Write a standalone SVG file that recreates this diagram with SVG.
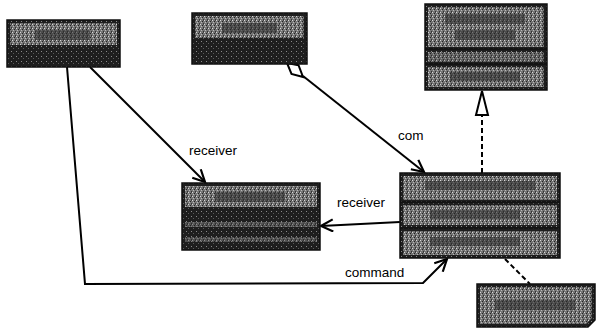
<svg xmlns="http://www.w3.org/2000/svg" width="596" height="329" viewBox="0 0 596 329">
<style>
.box{stroke:#111;stroke-width:1.5}
.dk{fill:url(#pdk)}
.lt{fill:url(#plt)}
.sep{stroke:#111;stroke-width:1.5}
.ln{fill:none;stroke:#000;stroke-width:2}
.dash{fill:none;stroke:#000;stroke-width:2;stroke-dasharray:5 3}
.lbl{font-family:"Liberation Sans",Arial,sans-serif;font-size:13.5px;fill:#000}
.txt{fill:#2a2a2a;opacity:0.55}
</style>
<defs>
<pattern id="pdk" width="5" height="5" patternUnits="userSpaceOnUse">
<rect width="5" height="5" fill="#1e1e1e"/>
<rect x="1" y="1" width="1" height="1" fill="#8a8a8a"/>
<rect x="3" y="3" width="1" height="1" fill="#5a5a5a"/>
</pattern>
<pattern id="plt" width="4" height="4" patternUnits="userSpaceOnUse">
<rect width="4" height="4" fill="#767676"/>
<rect x="0" y="0" width="1" height="1" fill="#d8d8d8"/>
<rect x="2" y="1" width="1" height="1" fill="#222"/>
<rect x="1" y="2" width="1" height="1" fill="#b8b8b8"/>
<rect x="3" y="3" width="1" height="1" fill="#333"/>
<rect x="3" y="0" width="1" height="1" fill="#444"/>
</pattern>
<marker id="open" markerWidth="16" markerHeight="16" refX="13" refY="7" orient="auto" markerUnits="userSpaceOnUse">
<path d="M1,1 L13,7 L1,13" fill="none" stroke="#000" stroke-width="2.2"/>
</marker>
</defs>
<rect width="596" height="329" fill="#fff"/>

<g id="connectors">
<path class="ln" d="M67,67 L85,284 L423,283 L447,259" marker-end="url(#open)"/>
<path class="ln" d="M90,67 L205,182" marker-end="url(#open)"/>
<path class="ln" d="M303,76 L424,172" marker-end="url(#open)"/>
<polygon points="287,63 298.5,65.2 303,77 291.5,74" fill="#fff" stroke="#000" stroke-width="2"/>
<path class="ln" d="M400,222 L321,226" marker-end="url(#open)"/>
<path class="dash" d="M482,173 L482,115"/>
<polygon points="482,91 488,115 476,115" fill="#fff" stroke="#000" stroke-width="2"/>
<path class="dash" d="M505,259 L530,284"/>
<text class="lbl" x="189" y="155">receiver</text>
<text class="lbl" x="398" y="140">com</text>
<text class="lbl" x="337" y="207">receiver</text>
<text class="lbl" x="345" y="277">command</text>
</g>

<g id="client">
<rect class="box dk" x="7" y="20" width="113" height="47"/>
<rect class="lt" x="10" y="23" width="107" height="22"/>
<rect class="txt" x="35" y="30" width="55" height="10"/>
</g>

<g id="invoker">
<rect class="box dk" x="192" y="13" width="115" height="51"/>
<rect class="lt" x="195" y="16" width="109" height="22"/>
<rect class="txt" x="222" y="23" width="55" height="10"/>
</g>

<g id="command">
<rect class="box dk" x="425" y="4" width="122" height="86"/>
<rect class="lt" x="428" y="7" width="116" height="40"/>
<rect class="txt" x="445" y="14" width="80" height="10"/>
<rect class="txt" x="455" y="30" width="60" height="10"/>
<line class="sep" x1="425" y1="49" x2="547" y2="49"/>
<rect class="lt" x="428" y="52" width="116" height="10" opacity="0.8"/>
<line class="sep" x1="425" y1="64" x2="547" y2="64"/>
<rect class="lt" x="428" y="67" width="116" height="20"/>
<rect class="txt" x="450" y="72" width="70" height="9"/>
</g>

<g id="receiver">
<rect class="box dk" x="182" y="183" width="138" height="67"/>
<rect class="lt" x="185" y="186" width="132" height="21"/>
<rect class="txt" x="215" y="192" width="70" height="10"/>
<rect class="lt" x="185" y="222" width="132" height="5" opacity="0.6"/>
<rect class="lt" x="185" y="237" width="132" height="5" opacity="0.6"/>
</g>

<g id="concretecommand">
<rect class="box dk" x="400" y="173" width="160" height="85"/>
<rect class="lt" x="403" y="176" width="154" height="24"/>
<rect class="txt" x="425" y="181" width="110" height="9"/>
<line class="sep" x1="400" y1="202" x2="560" y2="202"/>
<rect class="lt" x="403" y="205" width="154" height="20"/>
<rect class="txt" x="430" y="210" width="90" height="9"/>
<line class="sep" x1="400" y1="228" x2="560" y2="228"/>
<rect class="lt" x="403" y="231" width="154" height="24"/>
<rect class="txt" x="430" y="237" width="90" height="9"/>
</g>

<g id="note">
<path class="box dk" d="M477,284 L595,284 L595,320 L588,327 L477,327 Z"/>
<path class="lt" d="M480,287 L592,287 L592,318 L586,324 L480,324 Z"/>
<rect class="txt" x="495" y="300" width="80" height="10"/>
</g>
</svg>
